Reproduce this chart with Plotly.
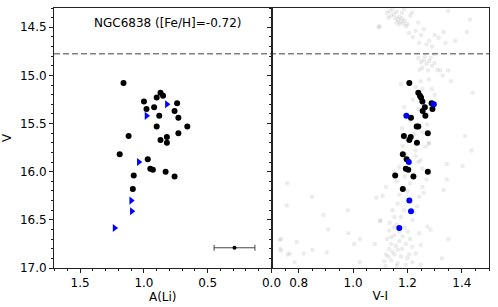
import plotly.graph_objects as go

# ---- data ----
v_black = [15.08, 15.18, 15.21, 15.23, 15.27, 15.29, 15.33, 15.35, 15.37, 15.42, 15.44, 15.53, 15.53,
           15.60, 15.63, 15.64, 15.67, 15.70, 15.82, 15.87, 15.97, 15.98, 16.00, 16.04, 16.05, 16.18]
ali_black = [1.16, 0.87, 0.85, 0.90, 1.00, 0.74, 0.92, 0.98, 0.76, 0.88, 0.73, 0.90, 0.66,
             0.73, 1.12, 0.82, 0.87, 0.82, 1.19, 0.97, 0.95, 0.93, 0.83, 1.08, 0.76, 1.087]
vi_black = [1.207, 1.240, 1.246, 1.250, 1.255, 1.289, 1.264, 1.292, 1.256, 1.266, 1.213, 1.234, 1.240,
            1.275, 1.187, 1.212, 1.207, 1.235, 1.183, 1.197, 1.194, 1.203, 1.275, 1.155, 1.222, 1.183]

v_blue = [15.30, 15.42, 15.90, 16.30, 16.41, 16.585]
ali_blue = [0.82, 0.98, 1.04, 1.10, 1.095, 1.23]
vi_blue = [1.297, 1.196, 1.205, 1.207, 1.213, 1.170]

err_ali = [0.29]
err_v = [16.79]
err_half = [0.16]

v_cut = 14.775
title_text = "NGC6838 ([Fe/H]=-0.72)"

field_pts = [
    (1.125, 14.35), (1.135, 14.33), (1.14, 14.38), (1.15, 14.36), (1.155, 14.40), (1.16, 14.34),
    (1.165, 14.42), (1.17, 14.39), (1.175, 14.44), (1.18, 14.41), (1.185, 14.46), (1.19, 14.43),
    (1.145, 14.31), (1.17, 14.47), (1.16, 14.45), (1.13, 14.40), (1.195, 14.49), (1.18, 14.35),
    (1.20, 14.47), (1.206, 14.56), (1.23, 14.54), (1.243, 14.66), (1.26, 14.52), (1.28, 14.64),
    (1.315, 14.61), (1.333, 14.55), (1.35, 14.33), (1.376, 14.64), (1.418, 14.55), (1.43, 14.42),
    (1.097, 14.49), (1.22, 14.60), (1.25, 14.58), (1.27, 14.68), (1.30, 14.58), (1.21, 14.38),
    (1.24, 14.45), (1.29, 14.70), (1.34, 14.66), (1.217, 14.35), (1.188, 14.31), (1.095, 14.50),
    (1.24, 14.82), (1.25, 14.86), (1.26, 14.84), (1.265, 14.80), (1.27, 14.88), (1.28, 14.85),
    (1.285, 14.82), (1.29, 14.90), (1.30, 14.87), (1.255, 14.92), (1.245, 14.94), (1.31, 14.94),
    (1.32, 14.95), (1.35, 14.95), (1.36, 15.06), (1.33, 15.00), (1.30, 14.78), (1.275, 14.95),
    (1.176, 15.09), (1.249, 15.06), (1.279, 15.04), (1.255, 15.14), (1.29, 15.14), (1.30, 15.20),
    (1.44, 15.18), (1.188, 15.33), (1.273, 15.51), (1.224, 15.61), (1.194, 15.66), (1.255, 15.59),
    (1.279, 15.70), (1.412, 15.63), (1.182, 15.73), (1.23, 15.78), (1.194, 15.82), (1.22, 15.25),
    (1.27, 15.40), (1.21, 15.47), (1.18, 15.55), (1.26, 15.30), (1.23, 15.12), (1.24, 15.35),
    (1.279, 15.71), (1.267, 15.74), (1.436, 15.78), (1.249, 15.88), (1.345, 15.92), (1.403, 15.94),
    (1.255, 15.97), (1.345, 16.08), (1.121, 16.16), (1.255, 16.16), (1.333, 16.19), (1.109, 16.25),
    (1.17, 16.24), (1.243, 16.26), (1.164, 16.33), (1.236, 16.36), (1.145, 16.40), (1.188, 16.40),
    (1.224, 16.42), (1.152, 16.47), (1.176, 16.47), (1.218, 16.50), (1.10, 16.51), (1.273, 16.57),
    (1.285, 16.60), (1.133, 16.61), (1.20, 16.62), (1.152, 16.66), (1.182, 16.67), (1.243, 16.64),
    (1.14, 16.75), (1.158, 16.77), (1.194, 16.75), (1.218, 16.78), (1.249, 16.76), (1.133, 16.80),
    (1.164, 16.81), (1.121, 16.86), (1.152, 16.86), (1.176, 16.88), (1.206, 16.86), (1.115, 16.93),
    (1.14, 16.92), (1.164, 16.95), (1.194, 16.97), (1.218, 16.94), (1.249, 16.97), (1.145, 16.83),
    (1.125, 16.70), (1.13, 16.88), (1.16, 16.98), (1.17, 16.72), (1.15, 16.58), (1.20, 16.90),
    (1.12, 16.98), (1.18, 16.80), (1.21, 16.70), (1.135, 16.53), (1.16, 16.55), (1.23, 16.85),
    (1.19, 16.58), (1.17, 16.62), (1.14, 16.68),
    (1.17, 15.95), (1.22, 16.02), (1.16, 16.10), (1.21, 16.12), (1.19, 16.05), (1.24, 15.90),
    (1.15, 16.00), (1.27, 16.08), (1.20, 16.20), (1.23, 15.84), (1.26, 16.22),
    (1.327, 16.90), (1.35, 16.70),
    (0.758, 16.12), (0.849, 16.26), (0.756, 16.35), (1.086, 16.27), (0.891, 16.45), (0.981, 16.40),
    (1.10, 16.51), (0.909, 16.60), (0.735, 16.70), (0.73, 16.71), (0.983, 16.64), (1.025, 16.70),
    (0.793, 16.73), (0.732, 16.80), (0.735, 16.82), (1.004, 16.75), (1.08, 16.75), (0.85, 16.81),
    (0.759, 16.86), (0.767, 16.85), (0.818, 16.85), (0.903, 16.84), (0.785, 16.94), (1.025, 16.94),
]
field_vi = [p[0] for p in field_pts]
field_v = [p[1] for p in field_pts]

FONT = "DejaVu Sans"

fig = go.Figure()

# field stars (right panel)
fig.add_trace(go.Scatter(x=field_vi, y=field_v, mode="markers", xaxis="x2", yaxis="y2",
                         marker=dict(size=4.5, color="rgba(128,128,128,0.15)", line=dict(width=0)),
                         showlegend=False, hoverinfo="skip"))

# left panel
fig.add_trace(go.Scatter(x=ali_black, y=v_black, mode="markers", xaxis="x", yaxis="y",
                         marker=dict(size=6, color="black", line=dict(width=0)), showlegend=False))
fig.add_trace(go.Scatter(x=ali_blue, y=v_blue, mode="markers", xaxis="x", yaxis="y",
                         marker=dict(size=7, color="#0000ff", symbol="triangle-right", line=dict(width=0)),
                         showlegend=False))
fig.add_trace(go.Scatter(x=err_ali, y=err_v, mode="markers", xaxis="x", yaxis="y",
                         marker=dict(size=4, color="black"),
                         error_x=dict(type="data", array=err_half, color="#444444", thickness=1, width=3),
                         showlegend=False))

# right panel
fig.add_trace(go.Scatter(x=vi_black, y=v_black, mode="markers", xaxis="x2", yaxis="y2",
                         marker=dict(size=6, color="black", line=dict(width=0)), showlegend=False))
fig.add_trace(go.Scatter(x=vi_blue, y=v_blue, mode="markers", xaxis="x2", yaxis="y2",
                         marker=dict(size=6, color="#0000ff", line=dict(width=0)), showlegend=False))

axis_common = dict(showline=True, linecolor="#222222", linewidth=1, mirror=True, showgrid=False,
                   zeroline=False, ticks="outside", ticklen=4, tickcolor="#222222", automargin=False,
                   tickfont=dict(family=FONT, size=12, color="black"))

fig.update_layout(
    width=498, height=307,
    margin=dict(l=54, r=9, t=8, b=39),
    paper_bgcolor="white", plot_bgcolor="white",
    font=dict(family=FONT, size=12, color="black"),
    xaxis=dict(domain=[0, 0.5], range=[1.705, 0.0], anchor="y",
               tickvals=[1.5, 1.0, 0.5, 0.0], ticktext=["1.5", "1.0", "0.5", "0.0"],
               minor=dict(dtick=0.1, ticks="outside", ticklen=2, tickcolor="#222222", showgrid=False),
               title=dict(text="A(Li)", font=dict(family=FONT, size=12), standoff=2),
               **axis_common),
    xaxis2=dict(domain=[0.5, 1], range=[0.7, 1.5], anchor="y2",
                tickvals=[0.8, 1.0, 1.2, 1.4], ticktext=["0.8", "1.0", "1.2", "1.4"],
                minor=dict(dtick=0.05, ticks="outside", ticklen=2, tickcolor="#222222", showgrid=False),
                title=dict(text="V-I", font=dict(family=FONT, size=12), standoff=2),
                **axis_common),
    yaxis=dict(domain=[0, 1], range=[17.0, 14.3], anchor="x",
               tickvals=[14.5, 15.0, 15.5, 16.0, 16.5, 17.0],
               ticktext=["14.5", "15.0", "15.5", "16.0", "16.5", "17.0"],
               minor=dict(dtick=0.1, ticks="outside", ticklen=2, tickcolor="#222222", showgrid=False),
               title=dict(text="V", font=dict(family=FONT, size=12), standoff=6),
               **axis_common),
    yaxis2=dict(domain=[0, 1], range=[17.0, 14.3], anchor="x2", matches="y",
                tickvals=[14.5, 15.0, 15.5, 16.0, 16.5, 17.0], showticklabels=False,
                minor=dict(dtick=0.1, ticks="outside", ticklen=2, tickcolor="#222222", showgrid=False),
                **axis_common),
    shapes=[dict(type="line", xref="paper", yref="y", x0=0, x1=1, y0=v_cut, y1=v_cut,
                 line=dict(color="#808080", width=1.5, dash="6px,3px"), layer="below")],
    annotations=[dict(text=title_text, xref="paper", yref="paper", x=0.087, y=0.942,
                      xanchor="left", yanchor="middle", showarrow=False,
                      font=dict(family=FONT, size=12, color="black"))],
)

fig.write_html("out.html",
               config={"displayModeBar": False},
               post_script="document.body.style.margin='0px';document.body.style.overflow='hidden';")
